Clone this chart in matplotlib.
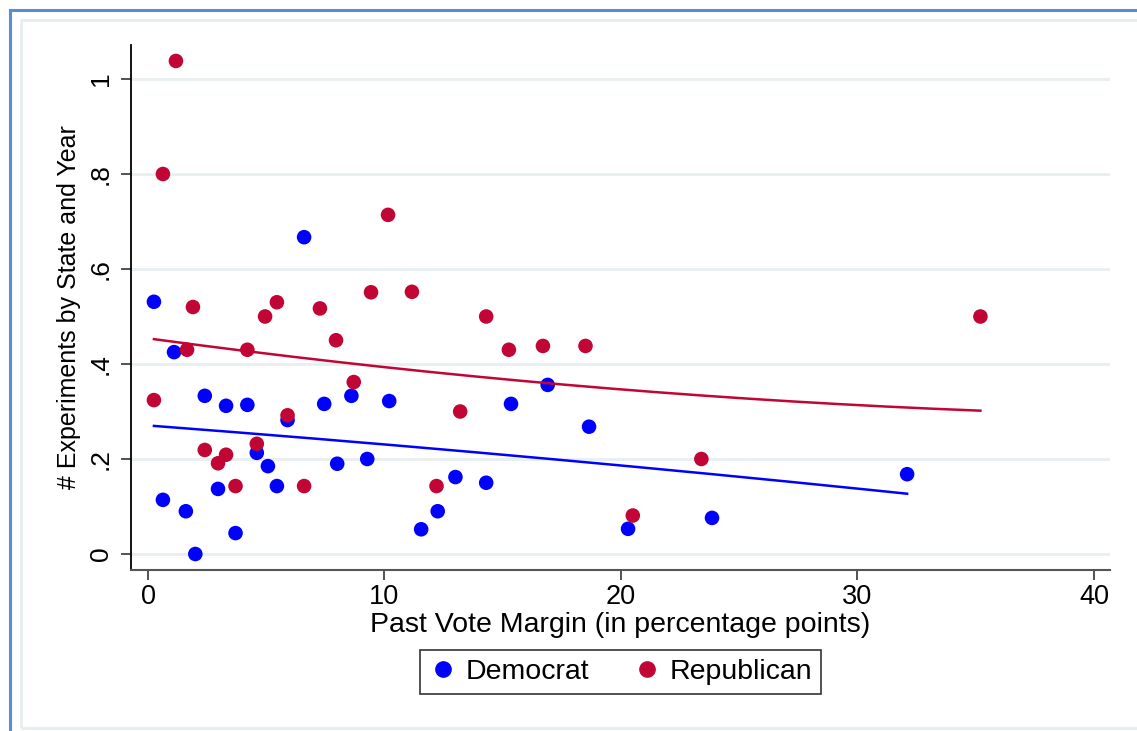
import numpy as np
import matplotlib
matplotlib.use("Agg")
import matplotlib.pyplot as plt
from matplotlib.patches import Rectangle
from matplotlib.lines import Line2D

plt.rcParams['font.family'] = ['Liberation Sans', 'DejaVu Sans']

# Data
dem_x = [0.25, 0.63, 1.1, 1.6, 2.0, 2.4, 2.96, 3.3, 3.7, 4.2, 4.6, 5.07, 5.45, 5.9, 6.6,
         7.45, 8.0, 8.6, 9.27, 10.2, 11.55, 12.25, 13.0, 14.3, 15.35, 16.9, 18.65, 20.3, 23.85, 32.1]
dem_y = [0.531, 0.114, 0.425, 0.09, 0.0, 0.333, 0.137, 0.312, 0.044, 0.314, 0.213, 0.185, 0.143, 0.282, 0.667,
         0.316, 0.19, 0.333, 0.2, 0.322, 0.052, 0.09, 0.162, 0.15, 0.316, 0.356, 0.268, 0.053, 0.076, 0.168]
rep_x = [0.25, 0.63, 1.18, 1.65, 1.9, 2.4, 2.96, 3.3, 3.7, 4.2, 4.6, 4.95, 5.45, 5.9, 6.6,
         7.27, 7.95, 8.7, 9.43, 10.15, 11.16, 12.2, 13.2, 14.3, 15.26, 16.7, 18.5, 20.5, 23.4, 35.2]
rep_y = [0.324, 0.8, 1.038, 0.43, 0.52, 0.219, 0.191, 0.209, 0.143, 0.43, 0.232, 0.5, 0.53, 0.292, 0.143,
         0.517, 0.45, 0.362, 0.551, 0.714, 0.552, 0.143, 0.3, 0.5, 0.43, 0.438, 0.438, 0.081, 0.2, 0.5]

# quadratic fit coefficients (a + b*x + c*x^2)
dem_fit_coef = [0.2706, -0.003777, -0.0000218]
rep_fit_coef = [0.454, -0.006751, 0.0000689]

x_ticks = [0, 10, 20, 30, 40]
y_ticks = [0, 0.2, 0.4, 0.6, 0.8, 1.0]
y_tick_labels = ['0', '.2', '.4', '.6', '.8', '1']

DEM_C = '#0000ff'
REP_C = '#c10534'

W, H = 1137, 731
fig = plt.figure(figsize=(W / 100, H / 100), dpi=100)
fig.patch.set_facecolor('white')

# outer frames
fig.add_artist(Rectangle((9.5 / W, 1 - 740 / H), 1200 / W, 730 / H, transform=fig.transFigure,
                         fill=False, edgecolor='#5b8bd4', lw=2.2))
fig.add_artist(Rectangle((21 / W, 1 - 728 / H), 1200 / W, 708 / H, transform=fig.transFigure,
                         fill=False, edgecolor='#e6eef0', lw=2))

ax = fig.add_axes([131 / W, 1 - 570 / H, (1110 - 131) / W, (570 - 45) / H])
ax.set_xlim(-0.72, 40.68)
ax.set_ylim(-0.0337, 1.0716)

for s in ['top', 'right']:
    ax.spines[s].set_visible(False)
ax.spines['left'].set_color('black')
ax.spines['left'].set_linewidth(1.3)
ax.spines['bottom'].set_color('#555555')
ax.spines['bottom'].set_linewidth(1.5)

ax.set_yticks(y_ticks)
ax.set_yticklabels(y_tick_labels, rotation=90, va='center')
ax.set_xticks(x_ticks)
ax.tick_params(axis='x', labelsize=19.5, length=7, width=1.3, color='#444444', pad=3)
ax.tick_params(axis='y', labelsize=19, length=7, width=1.3, color='#444444', pad=6)
ax.yaxis.grid(True, color='#e8eff1', lw=2)
ax.set_axisbelow(True)

ax.scatter(dem_x, dem_y, s=110, color=DEM_C, edgecolors='none', zorder=3)
ax.scatter(rep_x, rep_y, s=110, color=REP_C, edgecolors='none', zorder=3)

for xs, coef, c in [(dem_x, dem_fit_coef, DEM_C), (rep_x, rep_fit_coef, REP_C)]:
    xx = np.linspace(min(xs), max(xs), 200)
    yy = coef[0] + coef[1] * xx + coef[2] * xx ** 2
    ax.plot(xx, yy, color=c, lw=1.8, zorder=4)

ax.set_xlabel('Past Vote Margin (in percentage points)', fontsize=20.5, labelpad=1.5)
ax.set_ylabel('# Experiments by State and Year', fontsize=18, labelpad=6)

handles = [Line2D([], [], marker='o', ls='none', color=DEM_C, markersize=11),
           Line2D([], [], marker='o', ls='none', color=REP_C, markersize=11)]
leg = fig.legend(handles, ['Democrat', 'Republican'], loc='center',
                 bbox_to_anchor=((422 + 819) / 2 / W, 1 - 672 / H), ncol=2, fontsize=20.5,
                 frameon=True, fancybox=False, edgecolor='black', handletextpad=0.3,
                 columnspacing=1.5, borderpad=0.3, handlelength=1.0)
leg.get_frame().set_linewidth(1.2)

fig.savefig('out.png', dpi=100)
